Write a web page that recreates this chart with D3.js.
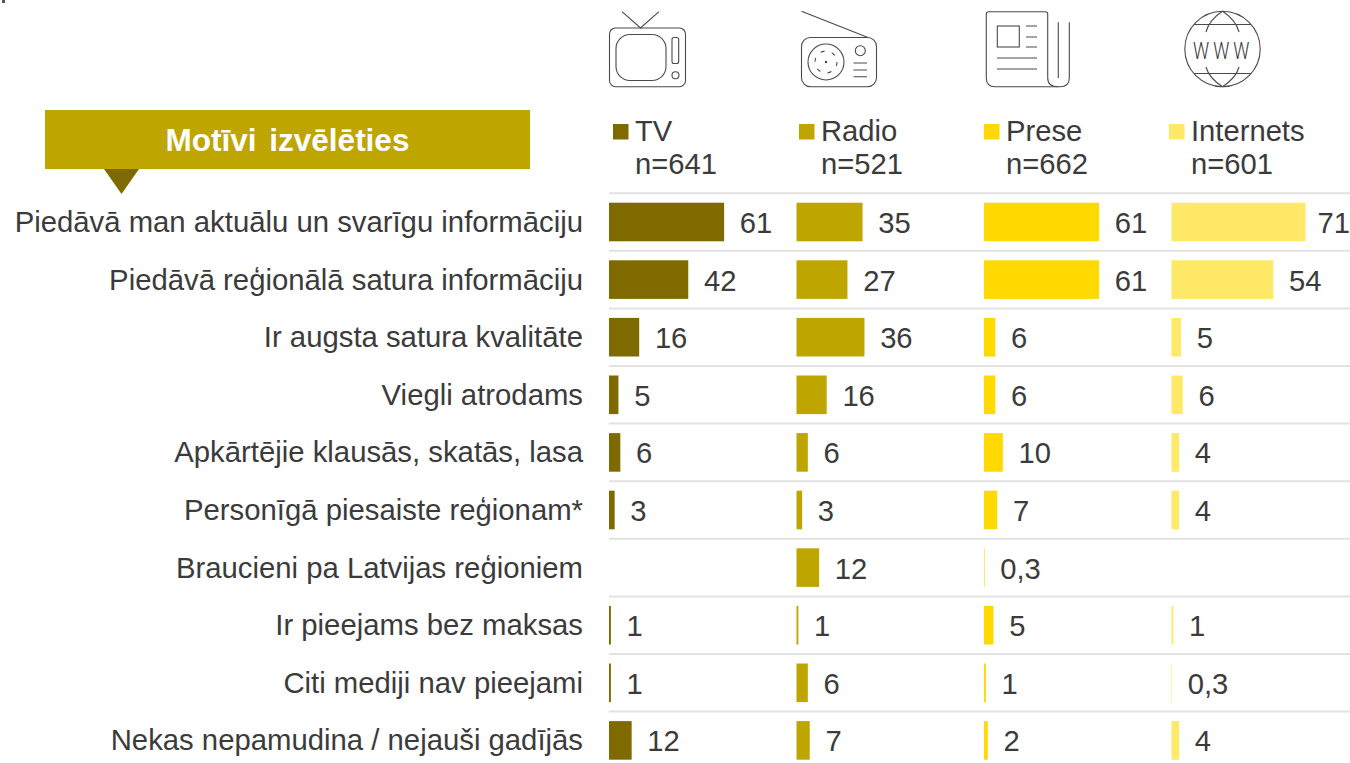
<!DOCTYPE html>
<html>
<head>
<meta charset="utf-8">
<script src="https://cdn.jsdelivr.net/npm/d3@7"></script>
<style>
  html, body { margin: 0; padding: 0; background: #fff; }
  svg { display: block; }
  text { font-family: "Liberation Sans", Arial, sans-serif; fill: #3b3b3b; }
</style>
</head>
<body>
<div id="chart"></div>
<script>
const categories = [
  "Piedāvā man aktuālu un svarīgu informāciju",
  "Piedāvā reģionālā satura informāciju",
  "Ir augsta satura kvalitāte",
  "Viegli atrodams",
  "Apkārtējie klausās, skatās, lasa",
  "Personīgā piesaiste reģionam*",
  "Braucieni pa Latvijas reģioniem",
  "Ir pieejams bez maksas",
  "Citi mediji nav pieejami",
  "Nekas nepamudina / nejauši gadījās"
];
const seriesNames = ["TV", "Radio", "Prese", "Internets"];
const seriesN = ["n=641", "n=521", "n=662", "n=601"];
const seriesColors = ["#7f6a00", "#bfa500", "#ffd900", "#ffe966"];
const tvValues = [61, 42, 16, 5, 6, 3, null, 1, 1, 12];
const radioValues = [35, 27, 36, 16, 6, 3, 12, 1, 6, 7];
const preseValues = [61, 61, 6, 6, 10, 7, 0.3, 5, 1, 2];
const internetValues = [71, 54, 5, 6, 4, 4, null, 1, 0.3, 4];
const allValues = [tvValues, radioValues, preseValues, internetValues];
const headerTitle = "Motīvi izvēlēties";

const WIDTH = 1350, HEIGHT = 763;
const FONT = 29.2;
const svg = d3.select("#chart").append("svg").attr("width", WIDTH).attr("height", HEIGHT);

const y = d3.scaleBand().domain(categories).range([193.2, 769.2]).paddingInner(0.33).paddingOuter(0.165);
const col = d3.scalePoint().domain(seriesNames).range([609, 1171.5]);
const x = d3.scaleLinear().domain([0, 71]).range([0, 134]);
const fmt = v => String(v).replace(".", ",");

// small dark speck in the top corner of the original
svg.append("rect").attr("x", 2).attr("y", 0).attr("width", 3).attr("height", 3).attr("fill", "#555");

// grid lines above each row
svg.append("g").selectAll("line").data(categories).join("line")
  .attr("x1", 609).attr("x2", WIDTH)
  .attr("y1", d => y(d) - y.step() * 0.165)
  .attr("y2", d => y(d) - y.step() * 0.165)
  .attr("stroke", "#e2e2e2").attr("stroke-width", 2);

// category labels
svg.append("g").selectAll("text").data(categories).join("text")
  .attr("x", 583)
  .attr("y", d => y(d) + y.bandwidth() / 2 + 10)
  .attr("text-anchor", "end")
  .attr("font-size", 29.3)
  .text(d => d);

// bars + values for each media
seriesNames.forEach((name, s) => {
  const rows = allValues[s].map((v, i) => ({ v: v, cat: categories[i] })).filter(d => d.v !== null);
  const g = svg.append("g").attr("transform", `translate(${col(name)},0)`);
  g.selectAll("rect").data(rows).join("rect")
    .attr("x", 0)
    .attr("y", d => y(d.cat))
    .attr("width", d => x(d.v))
    .attr("height", y.bandwidth())
    .attr("fill", seriesColors[s]);
  g.selectAll("text").data(rows).join("text")
    .attr("y", d => y(d.cat) + y.bandwidth() / 2 + 11)
    .attr("font-size", FONT)
    .text(d => fmt(d.v))
    // keep the widest label inside the picture
    .attr("x", function(d) {
      return Math.min(x(d.v) + 15.7, WIDTH - col(name) - this.getComputedTextLength());
    });
});

// legend
const legendX = [613, 799, 984, 1169];
seriesNames.forEach((name, s) => {
  const lg = svg.append("g").attr("transform", `translate(${legendX[s]},124)`);
  lg.append("rect").attr("width", 15.5).attr("height", 15.5).attr("fill", seriesColors[s]);
  lg.append("text").attr("x", 22).attr("y", 17).attr("font-size", FONT).text(name);
  lg.append("text").attr("x", 22).attr("y", 50).attr("font-size", FONT).text(seriesN[s]);
});

// header box
svg.append("rect").attr("x", 45).attr("y", 110).attr("width", 485).attr("height", 59).attr("fill", "#bfa500");
svg.append("path").attr("d", "M104,169 L139,169 L121.5,194 Z").attr("fill", "#7f6a00");
svg.append("text").attr("x", 287.5).attr("y", 151)
  .attr("text-anchor", "middle").attr("font-size", 31.5).attr("font-weight", "bold")
  .style("fill", "#fff").style("word-spacing", "4px").text(headerTitle);

// icons
const icons = svg.append("g").attr("fill", "none").attr("stroke", "#4a4a4a").attr("stroke-width", 1.1);
// tv
icons.append("rect").attr("x", 609.5).attr("y", 28).attr("width", 76).attr("height", 58.7).attr("rx", 6);
icons.append("rect").attr("x", 616).attr("y", 34.5).attr("width", 50).attr("height", 46).attr("rx", 14);
icons.append("rect").attr("x", 672).attr("y", 37.5).attr("width", 6.7).attr("height", 26).attr("rx", 2);
icons.append("circle").attr("cx", 675.5).attr("cy", 75.3).attr("r", 3.5);
icons.append("path").attr("d", "M622,11.7 L640.5,28 L659,11.7");
// radio
icons.append("rect").attr("x", 801.5).attr("y", 37.5).attr("width", 75).attr("height", 49.2).attr("rx", 9);
icons.append("path").attr("d", "M801.5,11.3 L868,37.5");
icons.append("circle").attr("cx", 826).attr("cy", 62).attr("r", 18);
icons.append("circle").attr("cx", 826).attr("cy", 62).attr("r", 11).attr("stroke-dasharray", "4 7.5");
icons.append("circle").attr("cx", 826).attr("cy", 62).attr("r", 0.7).attr("fill", "#333");
icons.append("circle").attr("cx", 860.3).attr("cy", 50.7).attr("r", 5);
icons.append("path").attr("d", "M853.5,63 H867 M853.5,70 H867 M853.5,76.7 H867");
// newspaper
icons.append("path").attr("d", "M1047.7,78 V14 q0,-2.3 -2.3,-2.3 H988.6 q-2.3,0 -2.3,2.3 V78 q0,8.7 8.7,8.7 H1060 q9.3,0 9.3,-8.7 V22.3");
icons.append("path").attr("d", "M1047.7,78 q0,8.7 10.6,8.7 M1058.3,22.3 V78");
icons.append("rect").attr("x", 997.3).attr("y", 26).attr("width", 22).attr("height", 21);
icons.append("path").attr("d", "M1026,26 H1037 M1026,37 H1037 M1026,47 H1037 M997,58 H1037 M997,69 H1037");
// globe
icons.append("circle").attr("cx", 1222.5).attr("cy", 49).attr("r", 37.7);
icons.append("path").attr("d", "M1194,24.5 H1251 M1194,73.5 H1251");
icons.append("path").attr("d", "M1206,32 Q1209,20 1222.5,11.3 Q1236,20 1239,32 M1206,67 Q1209,78 1222.5,86.7 Q1236,78 1239,67");
svg.append("text").attr("transform", "translate(1223.3,59) scale(0.78,1)").attr("text-anchor", "middle")
  .attr("font-size", 23).attr("font-weight", 300).style("font-family", "Roboto")
  .style("letter-spacing", "5.2px").style("fill", "#333").text("WWW");
</script>
</body>
</html>
